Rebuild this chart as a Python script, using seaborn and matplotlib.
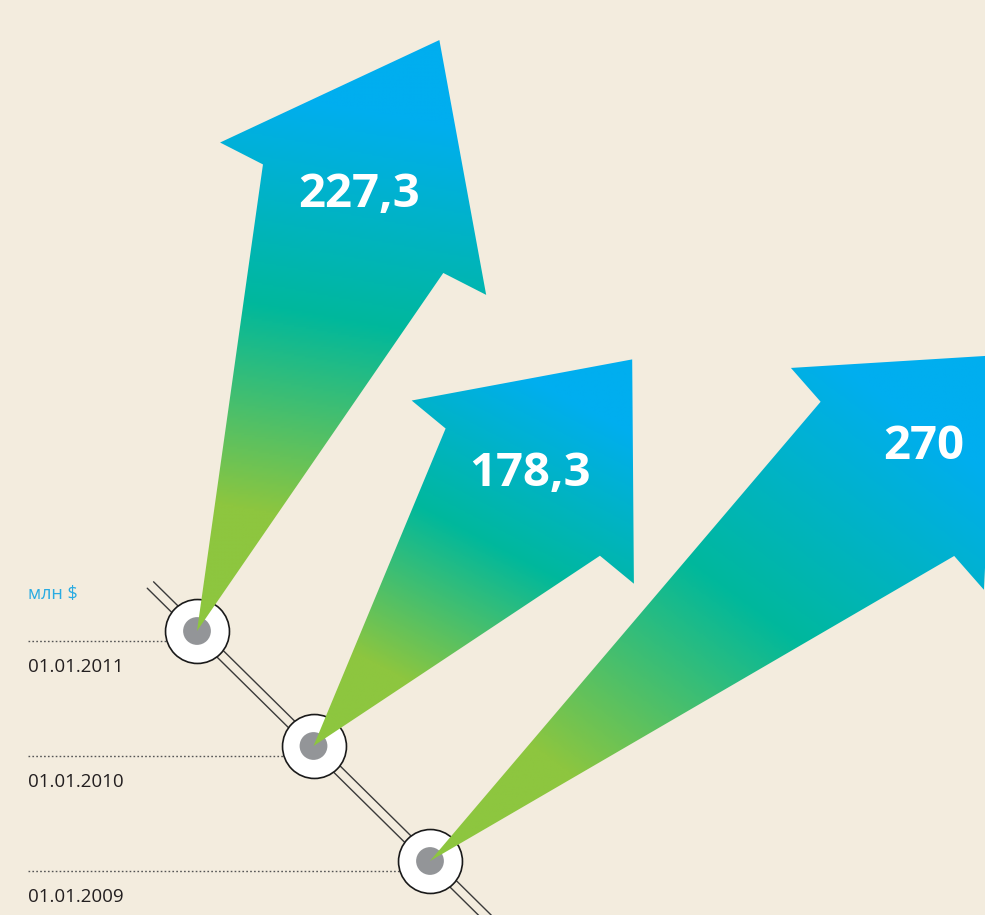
import numpy as np
import pandas as pd
import seaborn as sns
import matplotlib
matplotlib.use("Agg")
import matplotlib.pyplot as plt
from matplotlib.patches import Polygon
from matplotlib.colors import LinearSegmentedColormap

# data
dates = ["01.01.2011", "01.01.2010", "01.01.2009"]
values = [227.3, 178.3, 270]
value_labels = ["227,3", "178,3", "270"]
unit_label = "млн $"

# look
BG = "#f3ecde"
GREEN = "#8dc63f"
TEAL = "#00b89c"
BLUE = "#00aeef"
GRAY = "#939598"
TEXT = "#231f20"
UNIT_BLUE = "#29abe2"

# layout (pixel space, y grows downward)
origin = (197, 631)
step = (116.5, 115)
px_per_unit = 2.81            # arrow length per million $
arrow_angle = [67.7, 50.5, 41.8]
head_len = [198, 172, 163]
barb_w = [152, 144, 147]
shoulder_w = [104, 100, 102]
head_shift = [-12, 0, 20]
head_tilt = [40, 0, 4]
label_du = [25, 19, 49]
label_dv = [-16, -6, 20]

sns.set_style("white", {"axes.facecolor": BG, "figure.facecolor": BG})
plt.rcParams["font.family"] = ["Open Sans", "DejaVu Sans"]

fig = plt.figure(figsize=(9.85, 9.15), dpi=100)
ax = fig.add_axes([0, 0, 1, 1])

years = [int(d[-4:]) for d in dates]
pos = [max(years) - y for y in years]
df = pd.DataFrame({
    "date": dates,
    "value": values,
    "x": [origin[0] + step[0] * p for p in pos],
    "y": [origin[1] + step[1] * p for p in pos],
})

# timeline: double line through the points
d = np.array(step) / np.hypot(*step)
n = np.array([d[1], -d[0]])
t0, t1 = -0.4, 2.5
for off in (-4.5, 4.5):
    a = np.array(origin) + t0 * np.array(step) + off * n
    b = np.array(origin) + t1 * np.array(step) + off * n
    ax.plot([a[0], b[0]], [a[1], b[1]], color="#3a3a3a", lw=1.0, zorder=1)

# dotted guides and date labels
for _, r in df.iterrows():
    ax.hlines(r.y + 10, 28, r.x - 31, colors="#555555", linestyles=(0, (1.2, 1.6)),
              lw=1.0, zorder=1)
    ax.text(28, r.y + 36, r.date, fontsize=13.5, color=TEXT, va="center", ha="left",
            zorder=5)
ax.text(28, df.y.iloc[0] - 37, unit_label, fontsize=13, color=UNIT_BLUE, va="center",
        ha="left", zorder=5)

# circles
sns.scatterplot(data=df, x="x", y="y", s=2120, color="white", edgecolor="#1a1a1a",
                linewidth=1.2, legend=False, ax=ax, zorder=2)
sns.scatterplot(data=df, x="x", y="y", s=400, color=GRAY, edgecolor="none",
                legend=False, ax=ax, zorder=3)

cmap = LinearSegmentedColormap.from_list(
    "arrow", [(0, GREEN), (0.2, GREEN), (0.52, TEAL), (0.85, BLUE), (1, BLUE)])

for i, r in df.iterrows():
    L = r.value * px_per_unit
    ang = np.radians(arrow_angle[i])
    U = np.array([np.cos(ang), -np.sin(ang)])
    V = np.array([np.sin(ang), np.cos(ang)])
    tip = np.array([r.x, r.y])
    ub = L - head_len[i]
    tl = head_tilt[i] / 2
    sh = head_shift[i]
    local = [
        (0, 0),
        (ub + tl * 0.8, -shoulder_w[i] + sh),
        (ub + tl, -barb_w[i] + sh),
        (L, 0),
        (ub - tl, barb_w[i] + sh),
        (ub - tl * 0.8, shoulder_w[i] + sh),
    ]
    verts = np.array([tip + u * U + v * V for u, v in local])
    patch = Polygon(verts, closed=True, facecolor="none", edgecolor="none", zorder=4)
    ax.add_patch(patch)

    x0, y0 = verts.min(axis=0) - 2
    x1, y1 = verts.max(axis=0) + 2
    xs = np.linspace(x0, x1, 300)
    ys = np.linspace(y0, y1, 300)
    X, Y = np.meshgrid(xs, ys)
    g = np.radians(arrow_angle[i] + 12)
    G = np.array([np.cos(g), -np.sin(g)])
    T = ((X - tip[0]) * G[0] + (Y - tip[1]) * G[1]) / L
    im = ax.imshow(T, cmap=cmap, vmin=0, vmax=1, extent=(x0, x1, y1, y0),
                   origin="upper", interpolation="bilinear", zorder=4)
    im.set_clip_path(patch)

    lp = tip + (ub + label_du[i]) * U + label_dv[i] * V
    ax.text(lp[0], lp[1], value_labels[i], fontsize=34, fontweight="bold",
            color="white", ha="center", va="center", zorder=5)

ax.set_xlim(0, 985)
ax.set_ylim(915, 0)
ax.set_aspect("auto")
ax.axis("off")

fig.savefig("out.png", dpi=100, facecolor=BG)
